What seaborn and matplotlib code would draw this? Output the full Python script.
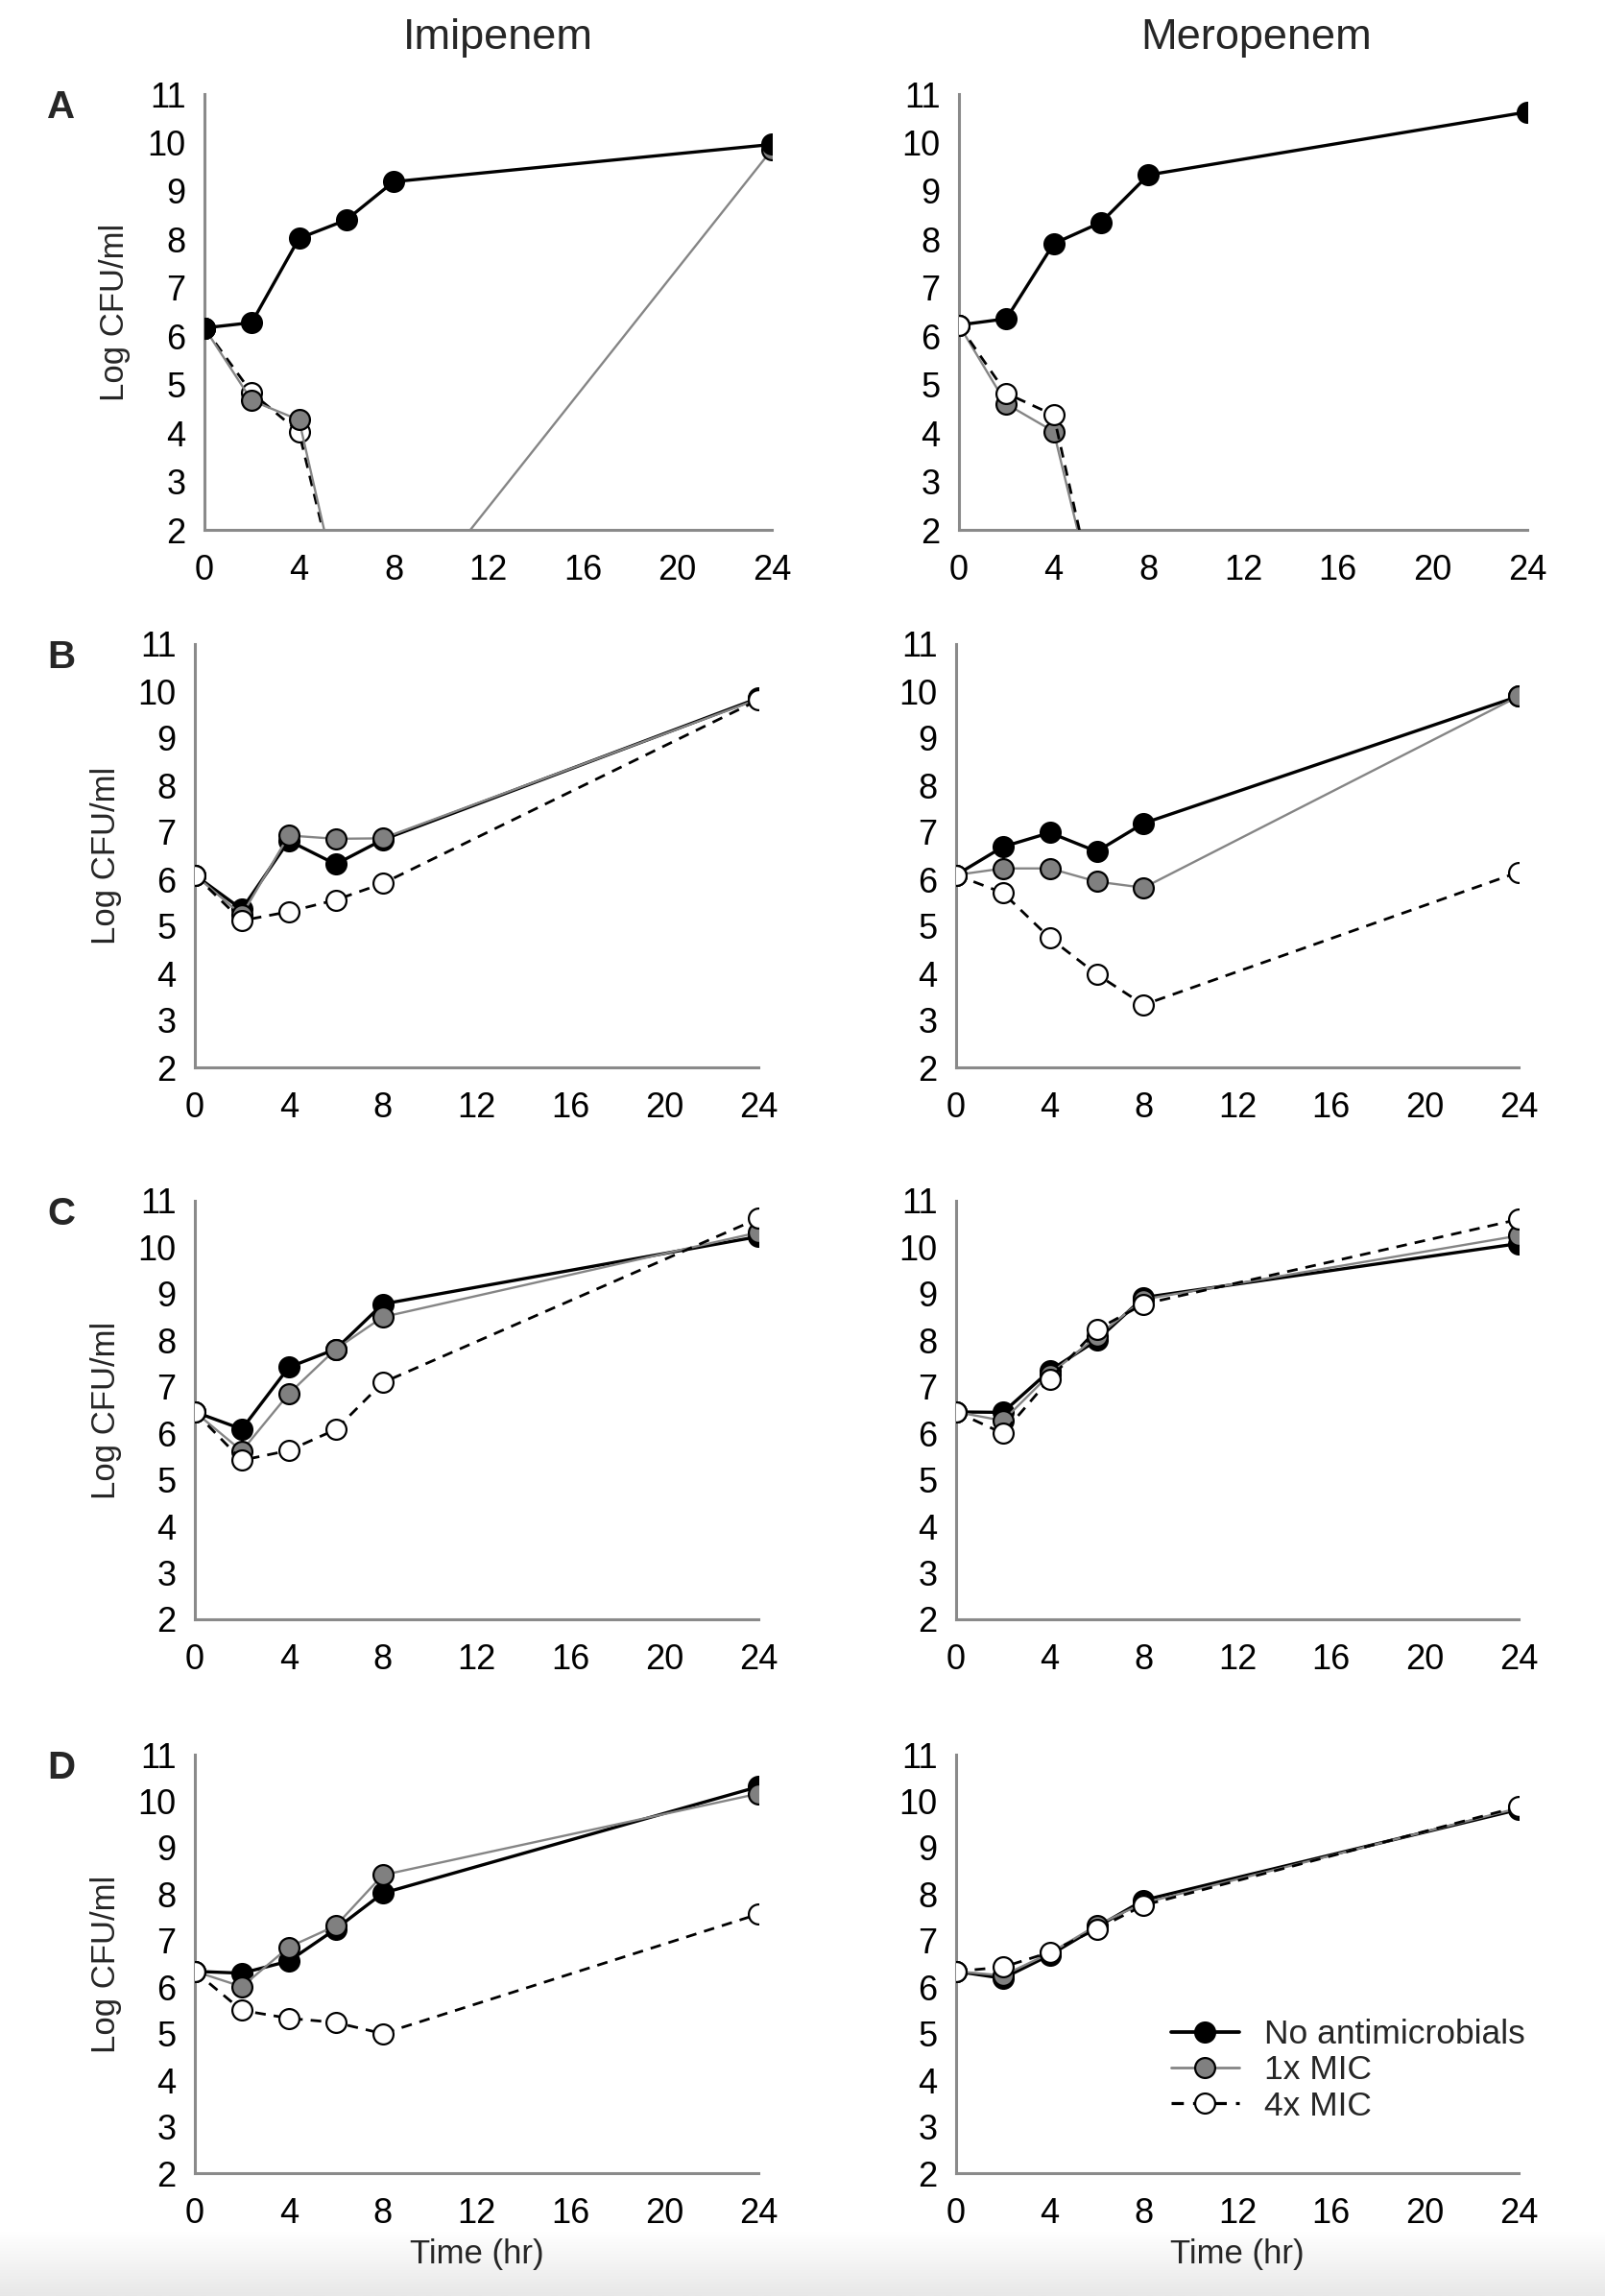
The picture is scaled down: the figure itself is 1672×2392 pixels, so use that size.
import numpy as np
import pandas as pd
import matplotlib
matplotlib.use("Agg")
import matplotlib.pyplot as plt
from matplotlib.lines import Line2D
import seaborn as sns

# ---------------- data ----------------
times = [0, 2, 4, 6, 8, 24]
series_names = ["No antimicrobials", "1x MIC", "4x MIC"]
drugs = ["Imipenem", "Meropenem"]
panel_letters = ["A", "B", "C", "D"]
y_ticks = [2, 3, 4, 5, 6, 7, 8, 9, 10, 11]
x_ticks = [0, 4, 8, 12, 16, 20, 24]

# Panel A (values of 0 = below detection limit, off-scale)
imi_A_none = [6.17, 6.28, 8.02, 8.40, 9.19, 9.96]
imi_A_1x = [6.17, 4.67, 4.27, 0.0, 0.0, 9.85]
imi_A_4x = [6.17, 4.83, 4.02, 0.0, 0.0, 0.0]
mer_A_none = [6.23, 6.36, 7.91, 8.35, 9.33, 10.63]
mer_A_1x = [6.23, 4.60, 4.03, 0.0, 0.0, 0.0]
mer_A_4x = [6.23, 4.82, 4.37, 0.0, 0.0, 0.0]

# Panel B
imi_B_none = [6.09, 5.36, 6.82, 6.32, 6.84, 9.85]
imi_B_1x = [6.09, 5.24, 6.93, 6.86, 6.87, 9.83]
imi_B_4x = [6.09, 5.12, 5.31, 5.56, 5.91, 9.81]
mer_B_none = [6.09, 6.69, 6.99, 6.59, 7.19, 9.89]
mer_B_1x = [6.09, 6.23, 6.23, 5.95, 5.82, 9.89]
mer_B_4x = [6.09, 5.71, 4.75, 3.98, 3.33, 6.15]

# Panel C
imi_C_none = [6.46, 6.09, 7.42, 7.81, 8.78, 10.23]
imi_C_1x = [6.46, 5.62, 6.85, 7.81, 8.50, 10.32]
imi_C_4x = [6.46, 5.42, 5.63, 6.08, 7.09, 10.62]
mer_C_none = [6.46, 6.45, 7.35, 8.00, 8.92, 10.08]
mer_C_1x = [6.46, 6.27, 7.27, 8.08, 8.88, 10.25]
mer_C_4x = [6.46, 6.00, 7.17, 8.23, 8.78, 10.60]

# Panel D
imi_D_none = [6.34, 6.30, 6.56, 7.25, 8.02, 10.31]
imi_D_1x = [6.34, 6.01, 6.86, 7.32, 8.41, 10.16]
imi_D_4x = [6.34, 5.50, 5.33, 5.24, 5.00, 7.57]
mer_D_none = [6.34, 6.19, 6.69, 7.29, 7.87, 9.82]
mer_D_1x = [6.34, 6.25, 6.73, 7.33, 7.81, 9.85]
mer_D_4x = [6.34, 6.43, 6.75, 7.25, 7.76, 9.88]

panel_data = {
    ("A", "Imipenem"): (imi_A_none, imi_A_1x, imi_A_4x),
    ("A", "Meropenem"): (mer_A_none, mer_A_1x, mer_A_4x),
    ("B", "Imipenem"): (imi_B_none, imi_B_1x, imi_B_4x),
    ("B", "Meropenem"): (mer_B_none, mer_B_1x, mer_B_4x),
    ("C", "Imipenem"): (imi_C_none, imi_C_1x, imi_C_4x),
    ("C", "Meropenem"): (mer_C_none, mer_C_1x, mer_C_4x),
    ("D", "Imipenem"): (imi_D_none, imi_D_1x, imi_D_4x),
    ("D", "Meropenem"): (mer_D_none, mer_D_1x, mer_D_4x),
}

# ---------------- style ----------------
sns.set_theme(style="white")
plt.rcParams["font.family"] = ["Liberation Sans", "DejaVu Sans"]

W, H = 1672, 2392
fig = plt.figure(figsize=(W / 100, H / 100), dpi=100)

# background gradient strip at the bottom
bg = fig.add_axes([0, 0, 1, 68 / H], zorder=-5)
grad = np.linspace(1.0, 0.0, 50).reshape(-1, 1)
bg.imshow(grad, aspect="auto", cmap=matplotlib.colors.LinearSegmentedColormap.from_list(
    "g", ["#e8e8e8", "#ffffff"]), extent=[0, 1, 0, 1], vmin=0, vmax=1)
bg.set_axis_off()

# axes boxes in pixels: (x0, x1) per column, (ytop, ybottom) per row
col_x = {
    "A": [(213, 804), (999, 1591)],
    "B": [(203, 790), (996, 1582)],
    "C": [(203, 790), (996, 1582)],
    "D": [(203, 790), (996, 1582)],
}
row_y = {"A": (98, 552), "B": (671, 1112), "C": (1251, 1687), "D": (1828, 2264)}

spine_col = "#8a8a8a"
styles = [
    dict(color="black", linewidth=2.4, linestyle="-", markerfacecolor="black"),
    dict(color="#858585", linewidth=1.7, linestyle="-", markerfacecolor="#808080"),
    dict(color="black", linewidth=2.0, linestyle=(0, (4, 3)), markerfacecolor="white"),
]

for letter in panel_letters:
    ytop, ybot = row_y[letter]
    for ci, drug in enumerate(drugs):
        x0, x1 = col_x[letter][ci]
        ax = fig.add_axes([x0 / W, 1 - ybot / H, (x1 - x0) / W, (ybot - ytop) / H])
        vals = panel_data[(letter, drug)]
        order = [2, 1, 0] if (letter == "A" and drug == "Imipenem") else [0, 1, 2]
        for rank, si in enumerate(order):
            st = styles[si]
            sns.lineplot(x=times, y=vals[si], ax=ax, marker="o", markersize=15,
                         markeredgecolor="black", markeredgewidth=1.6,
                         color=st["color"], linewidth=st["linewidth"],
                         linestyle=st["linestyle"], markerfacecolor=st["markerfacecolor"],
                         zorder=3 + rank)
        ax.set_xlim(0, 24)
        ax.set_ylim(2, 11)
        ax.set_xticks(x_ticks)
        ax.set_yticks(y_ticks)
        ax.set_xticklabels([str(t) for t in x_ticks])
        ax.set_yticklabels([str(t) for t in y_ticks])
        for s in ["top", "right"]:
            ax.spines[s].set_visible(False)
        for s in ["left", "bottom"]:
            ax.spines[s].set_color(spine_col)
            ax.spines[s].set_linewidth(2.2)
        ax.tick_params(axis="both", which="major", direction="out", length=9, width=2.2,
                       color=spine_col, labelsize=26, labelcolor="black")
        ax.tick_params(axis="x", pad=9)
        ax.tick_params(axis="y", pad=5)
        ax.set_facecolor("none")
        ax.set_xlabel("")
        ax.set_ylabel("")
        if ci == 0:
            ax.set_ylabel("Log CFU/ml", fontsize=25)
            ax.yaxis.set_label_coords(-0.13, 0.5)
        if letter == "D":
            ax.set_xlabel("Time (hr)", fontsize=25, labelpad=6)
        if ax.get_legend() is not None:
            ax.get_legend().remove()

    fig.text(64 / W, 1 - (ytop + 14) / H, letter, fontsize=29, fontweight="bold",
             ha="center", va="center")

fig.text(519 / W, 1 - 40 / H, "Imipenem", fontsize=32.5, ha="center", va="center")
fig.text(1309 / W, 1 - 40 / H, "Meropenem", fontsize=32.5, ha="center", va="center")

# legend
handles = []
for si, name in enumerate(series_names):
    st = styles[si]
    handles.append(Line2D([0], [0], color=st["color"], linewidth=st["linewidth"] + 0.3,
                          linestyle=st["linestyle"], marker="o", markersize=15,
                          markerfacecolor=st["markerfacecolor"], markeredgecolor="black",
                          markeredgewidth=1.6))
fig.legend(handles=handles, labels=series_names, loc="upper left",
           bbox_to_anchor=(1220 / W, 1 - 2103 / H), frameon=False, fontsize=25.5,
           handlelength=2.0, handletextpad=0.75, labelspacing=0.12, borderpad=0,
           borderaxespad=0)

fig.savefig("out.png", dpi=100, facecolor="white")
